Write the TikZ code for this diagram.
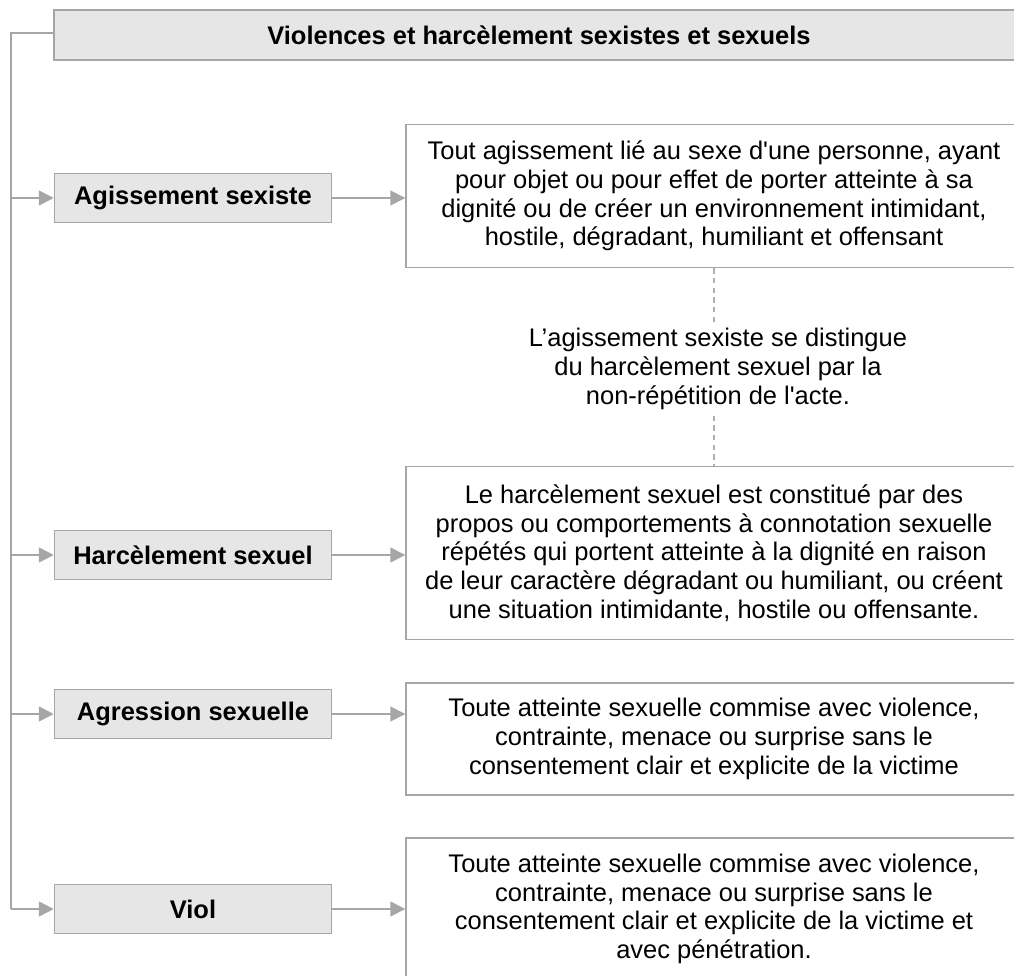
\documentclass[tikz,border=0pt]{standalone}
\usepackage{fontspec}
\setmainfont{Liberation Sans}
\usetikzlibrary{arrows.meta,positioning}
\definecolor{linegray}{HTML}{A6A6A6}
\definecolor{boxgray}{HTML}{E6E6E6}

\begin{document}
\begin{tikzpicture}[
    x=0.02cm, y=-0.02cm,
    font=\fontsize{14.5pt}{16.3pt}\selectfont,
    head/.style={rectangle,draw=linegray,fill=boxgray,line width=0.9pt,inner sep=0pt,
        font=\fontsize{14.5pt}{16.3pt}\selectfont\bfseries,minimum height=1cm},
    kind/.style={head,minimum width=5.54cm,minimum height=0.98cm},
    desc/.style={rectangle,draw=linegray,fill=white,line width=0.9pt,inner sep=0pt,
        align=center,minimum width=12.32cm},
    line/.style={draw=linegray,line width=0.9pt},
    arrow/.style={line,-{Triangle[length=8.5pt,width=8.5pt]}},
    gap/.style={draw=linegray!90,line width=0.6pt,dash pattern=on 3pt off 2.5pt}]

    \path[use as bounding box,clip] (0,0) rectangle (1014,976);

    % Main title
    \node[head,minimum width=19.4cm] (title) at (539,35) {Violences et harcèlement sexistes et sexuels};

    % Kinds of violence
    \node[kind] (agis) at (193,198) {Agissement sexiste};
    \node[kind] (harc) at (193,555) {Harcèlement sexuel};
    \node[kind] (aggr) at (193,714) {Agression sexuelle};
    \node[kind] (viol) at (193,909) {Viol};

    % Definitions
    \node[desc,minimum height=2.86cm] (agisdef) at (714,196) {Tout agissement lié au sexe d\textquotesingle une personne, ayant\\
        pour objet ou pour effet de porter atteinte à sa\\
        dignité ou de créer un environnement intimidant,\\
        hostile, dégradant, humiliant et offensant};
    \node[desc,minimum height=3.46cm] (harcdef) at (714,553) {Le harcèlement sexuel est constitué par des\\
        propos ou comportements à connotation sexuelle\\
        répétés qui portent atteinte à la dignité en raison\\
        de leur caractère dégradant ou humiliant, ou créent\\
        une situation intimidante, hostile ou offensante.};
    \node[desc,minimum height=2.24cm] (aggrdef) at (714,739) {Toute atteinte sexuelle commise avec violence,\\
        contrainte, menace ou surprise sans le\\
        consentement clair et explicite de la victime};
    \node[desc,minimum height=2.84cm] (violdef) at (714,909) {Toute atteinte sexuelle commise avec violence,\\
        contrainte, menace ou surprise sans le\\
        consentement clair et explicite de la victime et\\
        avec pénétration.};

    % Note between the two definitions
    \node[align=center] (note) at (718,369) {L’agissement sexiste se distingue\\
        du harcèlement sexuel par la\\
        non-répétition de l\textquotesingle acte.};

    % Connect
    \coordinate (trunk) at (11,33);
    \path[line] (title.west |- trunk) -- (trunk) -- (trunk |- viol);
    \foreach \n/\d in {agis/agisdef,harc/harcdef,aggr/aggrdef,viol/violdef} {
        \path[arrow] (trunk |- \n) -- (\n);
        \path[arrow] (\n) -- (\n -| \d.west);
    }
    \path[gap] (agisdef.south) -- (agisdef.south |- note.north);
    \path[gap] (harcdef.north |- note.south) -- (harcdef.north);
\end{tikzpicture}
\end{document}
